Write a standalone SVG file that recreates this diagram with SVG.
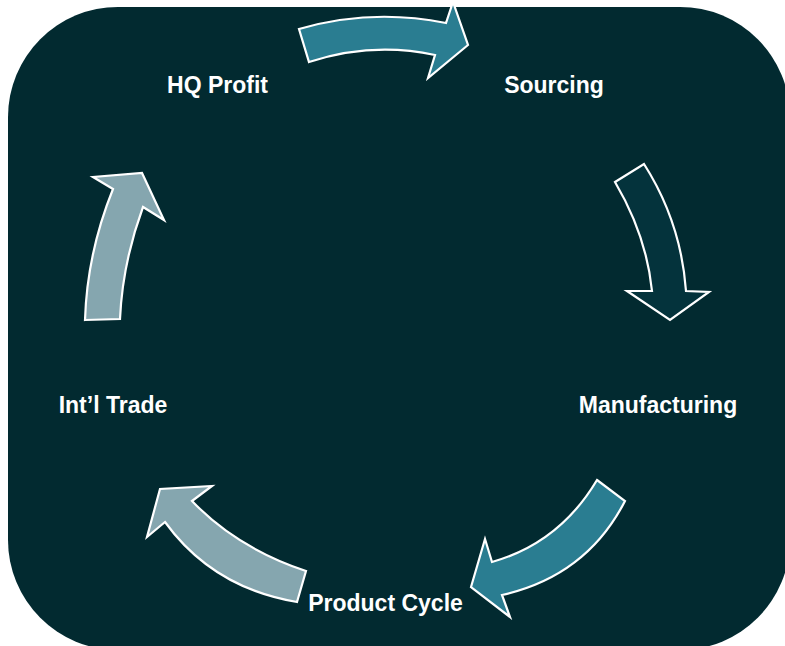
<svg xmlns="http://www.w3.org/2000/svg" width="785" height="646" viewBox="0 0 785 646">
<style>
.arrow{stroke:#ffffff;stroke-width:2.2;stroke-linejoin:miter}
.a1{fill:#2a7d91}
.a2{fill:#04333c}
.a3{fill:#85a6af}
.lbl{font-family:"Liberation Sans",Arial,sans-serif;font-weight:bold;font-size:23px;fill:#ffffff;text-anchor:middle}
</style>
<rect x="8" y="7" width="782" height="643" rx="110" ry="110" fill="#022a30"/>
<g id="connectors">
<path class="arrow a1" d="M299,29 Q371.5,8 446,23 L453,2 L468,45 L428,78 L435,55 Q372,41.5 309,62 Z"/>
<path class="arrow a2" d="M615,182 L644,164 Q681,222 686,291 L709,292 L670,320 L627,291 L652,291 Q646.5,235.5 615,182 Z"/>
<path class="arrow a1" d="M597,480 L625,501 Q586.5,576 502,595 L510,617 L471,587 L485,539 L492,562 Q559.5,543 597,480 Z"/>
<path class="arrow a3" d="M306,571 Q237,548 192,501 L212,486 L160,489 L147,537 L165,522 Q213,588 297,602 Z"/>
<path class="arrow a3" d="M85,320 L120,319 Q122.5,263 143,207 L164,220 L142,173 L93,177 L113,189 Q87,253.5 85,320 Z"/>
</g>
<g id="node-hq-profit"><text class="lbl" x="217.5" y="93">HQ Profit</text></g>
<g id="node-sourcing"><text class="lbl" x="554" y="93">Sourcing</text></g>
<g id="node-manufacturing"><text class="lbl" x="658" y="413">Manufacturing</text></g>
<g id="node-product-cycle"><text class="lbl" x="385.5" y="611">Product Cycle</text></g>
<g id="node-intl-trade"><text class="lbl" x="113" y="413">Int’l Trade</text></g>
</svg>
